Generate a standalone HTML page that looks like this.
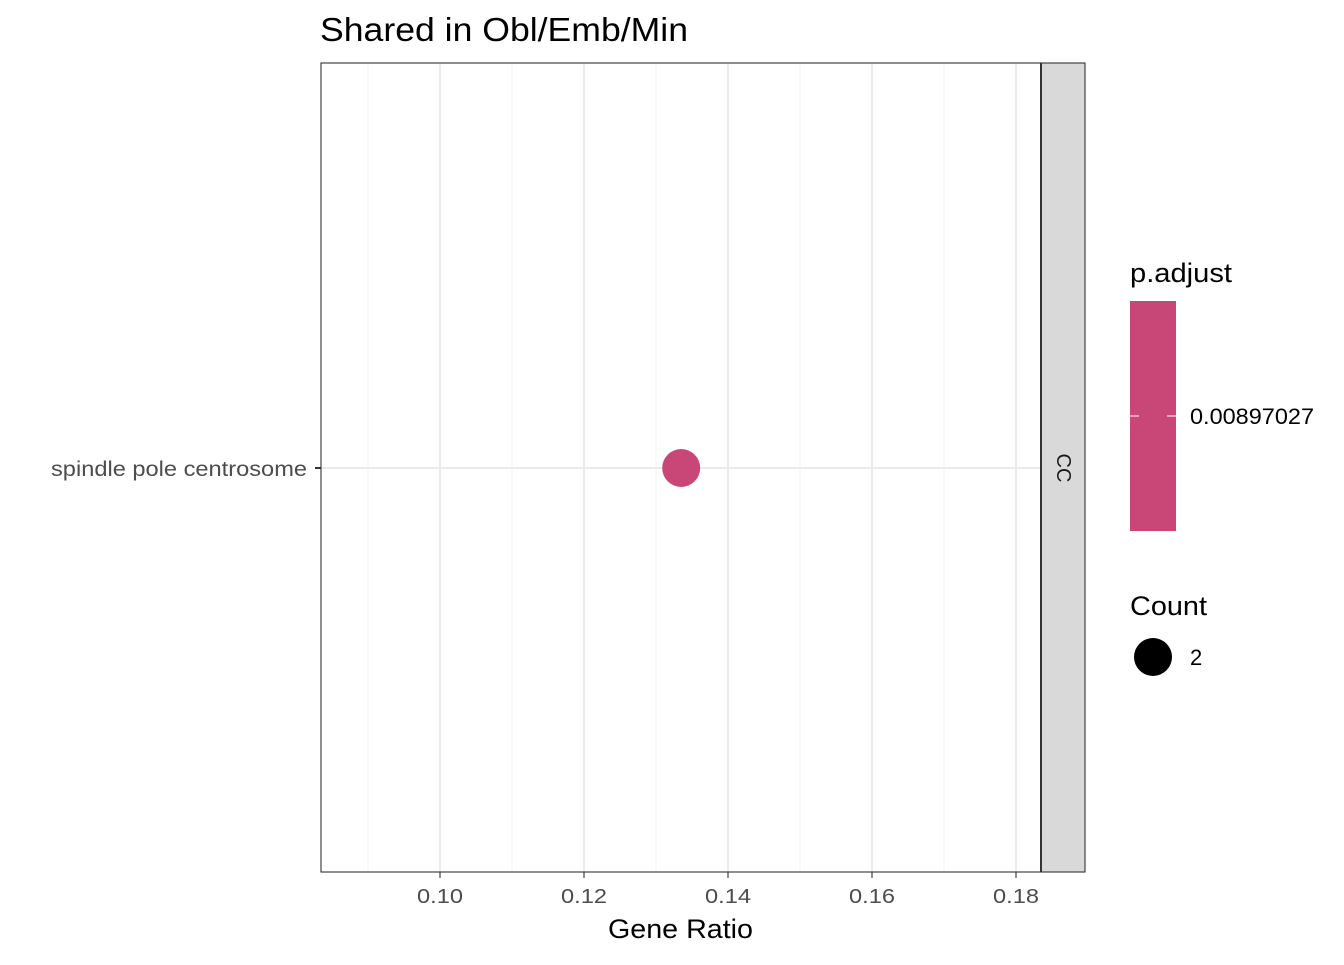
<!DOCTYPE html>
<html><head><meta charset="utf-8"><style>
body{margin:0;background:#fff;}
svg text{font-family:"Liberation Sans",sans-serif;}
</style></head><body>
<svg id="chart" width="1344" height="960" xmlns="http://www.w3.org/2000/svg">
<rect width="1344" height="960" fill="#fff"/>
<text x="320" y="41" font-size="33" fill="#000" textLength="368" lengthAdjust="spacingAndGlyphs">Shared in Obl/Emb/Min</text>
<g id="grid"></g>
<g id="marks"></g>
<rect x="321" y="63" width="720" height="809" fill="none" stroke="#333" stroke-width="1.1"/>
<rect x="1041" y="63" width="44" height="809" fill="#d9d9d9" stroke="#333" stroke-width="1.1"/>
<line x1="1041" y1="63" x2="1041" y2="872" stroke="#333" stroke-width="2"/>
<text x="1063" y="468" font-size="20" fill="#1a1a1a" text-anchor="middle" dominant-baseline="central" transform="rotate(90 1063 468)">CC</text>
<g id="xaxis"></g>
<text x="608" y="938" font-size="27" fill="#000" textLength="145" lengthAdjust="spacingAndGlyphs">Gene Ratio</text>
<text x="1130" y="282" font-size="27" fill="#000" textLength="102" lengthAdjust="spacingAndGlyphs">p.adjust</text>
<rect x="1130" y="301" width="46" height="230" fill="#C94777"/>
<line x1="1130" y1="416" x2="1139" y2="416" stroke="#fff" stroke-width="1"/>
<line x1="1167" y1="416" x2="1176" y2="416" stroke="#fff" stroke-width="1"/>
<text x="1190" y="424" font-size="22" fill="#000" textLength="124" lengthAdjust="spacingAndGlyphs">0.00897027</text>
<text x="1130" y="615" font-size="27" fill="#000" textLength="77" lengthAdjust="spacingAndGlyphs">Count</text>
<circle cx="1153" cy="657" r="19" fill="#000"/>
<text x="1190" y="665" font-size="22" fill="#000">2</text>
</svg>
<script>
const categories = ["spindle pole centrosome"];
const geneRatio = [0.1335];
const xTicks = [0.10, 0.12, 0.14, 0.16, 0.18];
const xTickLabels = ["0.10", "0.12", "0.14", "0.16", "0.18"];
const xMinor = [0.09, 0.11, 0.13, 0.15, 0.17];
const NS = "http://www.w3.org/2000/svg";
function xScale(v){ return 440 + (v - 0.10) * 7200; }
function yScale(i){ return 468 - i * 100; }
function mk(tag, attrs, parent){ const e = document.createElementNS(NS, tag); for (const k in attrs) e.setAttribute(k, attrs[k]); parent.appendChild(e); return e; }
const grid = document.getElementById('grid'), marks = document.getElementById('marks'), xa = document.getElementById('xaxis');
xMinor.forEach(v => {
  const l = mk('line', {x1: xScale(v), x2: xScale(v), y1: 63, y2: 872, stroke: '#f0f0f0', 'stroke-width': 1}, grid);
  
  
});
xTicks.forEach((v, i) => {
  const l = mk('line', {x1: xScale(v), x2: xScale(v), y1: 63, y2: 872, stroke: '#ebebeb', 'stroke-width': 2}, grid);
  
  
  const t = mk('line', {x1: xScale(v), x2: xScale(v), y1: 872, y2: 878, stroke: '#333', 'stroke-width': 1.1}, xa);
  
  
  const tx = mk('text', {x: xScale(v) - 23, y: 903, 'font-size': 20, fill: '#4d4d4d', textLength: 46, lengthAdjust: 'spacingAndGlyphs'}, xa);
  tx.textContent = xTickLabels[i];
  
  
});
categories.forEach((c, i) => {
  const y = yScale(i);
  const g = mk('line', {x1: 321, x2: 1041, y1: y, y2: y, stroke: '#ebebeb', 'stroke-width': 2}, grid);
  
  
  const t = mk('line', {x1: 315, x2: 321, y1: y, y2: y, stroke: '#333', 'stroke-width': 2}, xa);
  
  
  const tx = mk('text', {x: 51, y: y + 8, 'font-size': 21, fill: '#4d4d4d', textLength: 256, lengthAdjust: 'spacingAndGlyphs'}, xa);
  tx.textContent = c;
  
  
  const p = mk('circle', {cx: xScale(geneRatio[i]), cy: y, r: 19, fill: '#C94777'}, marks);
  
  
});
</script>
</body></html>
